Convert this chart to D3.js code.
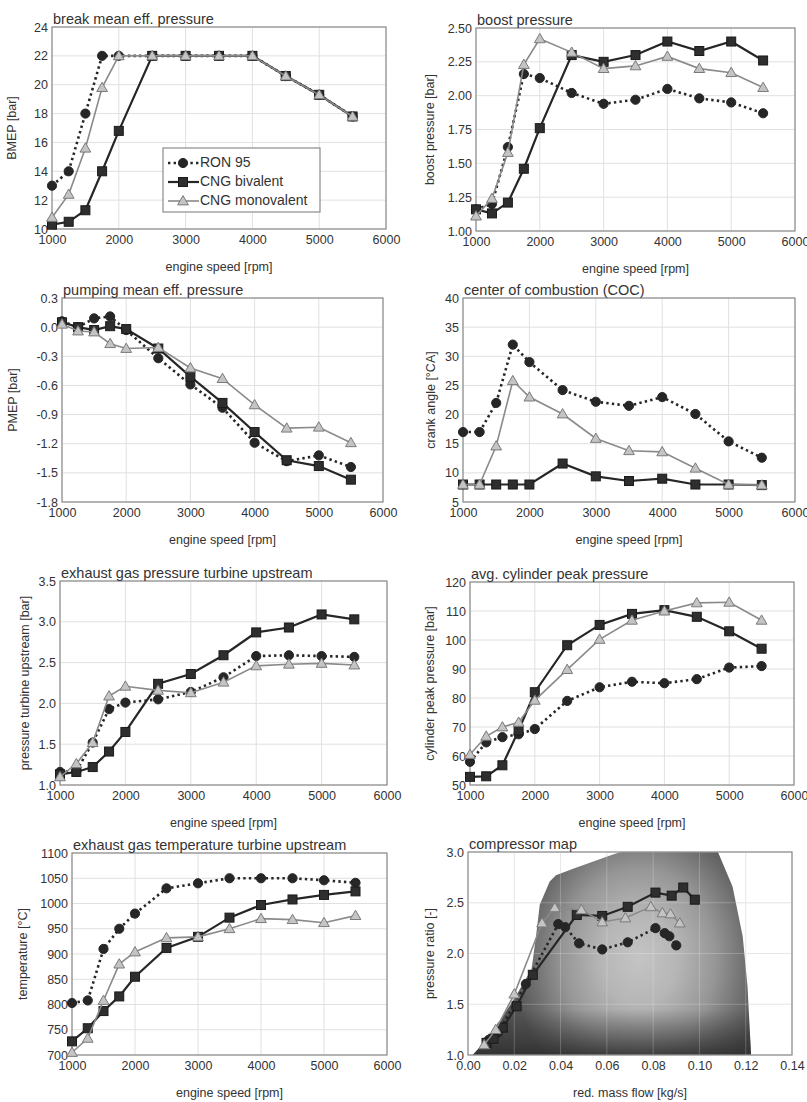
<!DOCTYPE html>
<html><head><meta charset="utf-8">
<script src="https://cdn.jsdelivr.net/npm/d3@7"></script>
<style>
body{margin:0;background:#fff}
svg{display:block}
text{font-family:"Liberation Sans",Arial,sans-serif;fill:#333}
</style>
</head><body>
<svg id="c" width="807" height="1102"></svg>
<script>
// ---------- data ----------
const speeds = [1000,1250,1500,1750,2000,2500,3000,3500,4000,4500,5000,5500];
const seriesNames = ["RON 95","CNG bivalent","CNG monovalent"];
const speedTicks = [1000,2000,3000,4000,5000,6000];
const speedTickLabels = ["1000","2000","3000","4000","5000","6000"];

const bmepRON  = [13.0,14.0,18.0,22.0,22.0,22.0,22.0,22.0,22.0,20.6,19.3,17.8];
const bmepBi   = [10.3,10.5,11.3,14.0,16.8,22.0,22.0,22.0,22.0,20.6,19.3,17.8];
const bmepMono = [10.8,12.4,15.6,19.8,22.0,22.0,22.0,22.0,22.0,20.6,19.3,17.8];
const bmepTicks = [10,12,14,16,18,20,22,24];
const bmepTickLabels = ["10","12","14","16","18","20","22","24"];

const boostRON  = [1.16,1.20,1.62,2.16,2.13,2.02,1.94,1.97,2.05,1.98,1.95,1.87];
const boostBi   = [1.16,1.13,1.21,1.46,1.76,2.30,2.25,2.30,2.40,2.33,2.40,2.26];
const boostMono = [1.11,1.24,1.58,2.23,2.42,2.32,2.20,2.22,2.29,2.20,2.17,2.06];
const boostTicks = [1.00,1.25,1.50,1.75,2.00,2.25,2.50];
const boostTickLabels = ["1.00","1.25","1.50","1.75","2.00","2.25","2.50"];

const pmepRON  = [0.06,0.00,0.09,0.11,-0.03,-0.32,-0.59,-0.83,-1.19,-1.38,-1.32,-1.44];
const pmepBi   = [0.05,0.00,-0.03,0.01,-0.02,-0.22,-0.51,-0.78,-1.08,-1.37,-1.43,-1.57];
const pmepMono = [0.03,-0.04,-0.05,-0.17,-0.22,-0.21,-0.42,-0.53,-0.80,-1.04,-1.03,-1.19];
const pmepTicks = [-1.8,-1.5,-1.2,-0.9,-0.6,-0.3,0.0,0.3];
const pmepTickLabels = ["-1.8","-1.5","-1.2","-0.9","-0.6","-0.3","0.0","0.3"];

const cocRON  = [17.0,17.0,22.0,32.0,29.0,24.2,22.2,21.5,23.0,20.1,15.4,12.6];
const cocBi   = [8.0,8.0,8.0,8.0,8.0,11.6,9.4,8.6,9.0,8.0,8.0,7.9];
const cocMono = [8.0,8.0,14.6,25.8,23.0,20.1,15.9,13.8,13.6,10.8,8.0,7.9];
const cocTicks = [5,10,15,20,25,30,35,40];
const cocTickLabels = ["5","10","15","20","25","30","35","40"];

const exhPRON  = [1.16,1.17,1.52,1.93,2.01,2.05,2.14,2.32,2.58,2.59,2.58,2.57];
const exhPBi   = [1.13,1.16,1.22,1.41,1.65,2.24,2.36,2.59,2.87,2.93,3.09,3.03];
const exhPMono = [1.10,1.26,1.52,2.09,2.21,2.16,2.13,2.26,2.46,2.48,2.49,2.47];
const exhPTicks = [1.0,1.5,2.0,2.5,3.0,3.5];
const exhPTickLabels = ["1.0","1.5","2.0","2.5","3.0","3.5"];

const peakRON  = [58.0,64.7,66.5,67.5,69.3,79.0,83.7,85.6,85.1,86.5,90.5,91.0];
const peakBi   = [52.8,53.0,56.8,68.8,82.0,98.2,105.2,109.0,110.3,108.0,103.0,97.0];
const peakMono = [60.5,66.8,70.0,71.6,79.2,89.8,100.2,106.8,110.0,112.8,113.0,106.8];
const peakTicks = [50,60,70,80,90,100,110,120];
const peakTickLabels = ["50","60","70","80","90","100","110","120"];

const tempRON  = [803,808,910,950,980,1030,1040,1050,1050,1050,1046,1041];
const tempBi   = [727,753,787,816,855,912,934,972,997,1008,1017,1024];
const tempMono = [705,733,808,880,904,932,934,950,970,968,962,976];
const tempTicks = [700,750,800,850,900,950,1000,1050,1100];
const tempTickLabels = ["700","750","800","850","900","950","1000","1050","1100"];

const flowRON  = [0.009,0.013,0.025,0.039,0.042,0.048,0.058,0.069,0.081,0.085,0.087,0.090];
const prRON    = [1.15,1.22,1.70,2.29,2.26,2.10,2.04,2.11,2.25,2.20,2.17,2.08];
const flowBi   = [0.008,0.011,0.015,0.021,0.028,0.047,0.058,0.069,0.081,0.088,0.093,0.098];
const prBi     = [1.12,1.16,1.27,1.48,1.79,2.38,2.37,2.46,2.60,2.57,2.65,2.53];
const flowMono = [0.007,0.012,0.020,0.032,0.0375,0.049,0.058,0.068,0.079,0.084,0.0875,0.0915];
const prMono   = [1.10,1.25,1.60,2.30,2.45,2.43,2.31,2.35,2.46,2.40,2.39,2.30];
const flowTicks = [0.00,0.02,0.04,0.06,0.08,0.10,0.12,0.14];
const flowTickLabels = ["0.00","0.02","0.04","0.06","0.08","0.10","0.12","0.14"];
const prTicks = [1.0,1.5,2.0,2.5,3.0];
const prTickLabels = ["1.0","1.5","2.0","2.5","3.0"];
// compressor map operating-range outline (flow, pressure ratio)
const mapFlow = [0.002,0.0073,0.0145,0.0217,0.0275,0.0296,0.031,0.0353,0.038,0.046,0.062,0.066,0.108,0.1143,0.1187,0.1208,0.1223];
const mapPR   = [1.00,1.13,1.36,1.62,1.85,2.21,2.48,2.71,2.77,2.84,2.97,3.00,3.00,2.66,2.17,1.67,1.00];

// ---------- layout ----------
const svg = d3.select("#c");
const panels = [
  {title:"break mean eff. pressure", l:52,r:386,t:27,b:229, yt:"BMEP [bar]", ytx:13,
   xd:[1000,6000], xT:speedTicks, xL:speedTickLabels, xt:"engine speed [rpm]",
   yd:[10,24], yT:bmepTicks, yL:bmepTickLabels, xs:[speeds,speeds,speeds], ys:[bmepRON,bmepBi,bmepMono], legend:true},
  {title:"boost pressure", l:476,r:795,t:28,b:231, yt:"boost pressure [bar]", ytx:431,
   xd:[1000,6000], xT:speedTicks, xL:speedTickLabels, xt:"engine speed [rpm]",
   yd:[1,2.5], yT:boostTicks, yL:boostTickLabels, xs:[speeds,speeds,speeds], ys:[boostRON,boostBi,boostMono]},
  {title:"pumping mean eff. pressure", l:62,r:383,t:298,b:502, yt:"PMEP [bar]", ytx:14,
   xd:[1000,6000], xT:speedTicks, xL:speedTickLabels, xt:"engine speed [rpm]",
   yd:[-1.8,0.3], yT:pmepTicks, yL:pmepTickLabels, xs:[speeds,speeds,speeds], ys:[pmepRON,pmepBi,pmepMono]},
  {title:"center of combustion (COC)", l:463,r:795,t:298,b:502, yt:"crank angle [°CA]", ytx:432,
   xd:[1000,6000], xT:speedTicks, xL:speedTickLabels, xt:"engine speed [rpm]",
   yd:[5,40], yT:cocTicks, yL:cocTickLabels, xs:[speeds,speeds,speeds], ys:[cocRON,cocBi,cocMono]},
  {title:"exhaust gas pressure turbine upstream", l:60,r:387,t:581,b:785, yt:"pressure turbine upstream [bar]", ytx:26,
   xd:[1000,6000], xT:speedTicks, xL:speedTickLabels, xt:"engine speed [rpm]",
   yd:[1,3.5], yT:exhPTicks, yL:exhPTickLabels, xs:[speeds,speeds,speeds], ys:[exhPRON,exhPBi,exhPMono]},
  {title:"avg. cylinder peak pressure", l:470,r:794,t:582,b:785, yt:"cylinder peak pressure [bar]", ytx:431,
   xd:[1000,6000], xT:speedTicks, xL:speedTickLabels, xt:"engine speed [rpm]",
   yd:[50,120], yT:peakTicks, yL:peakTickLabels, xs:[speeds,speeds,speeds], ys:[peakRON,peakBi,peakMono]},
  {title:"exhaust gas temperature turbine upstream", l:72,r:387,t:853,b:1055, yt:"temperature [°C]", ytx:24,
   xd:[1000,6000], xT:speedTicks, xL:speedTickLabels, xt:"engine speed [rpm]",
   yd:[700,1100], yT:tempTicks, yL:tempTickLabels, xs:[speeds,speeds,speeds], ys:[tempRON,tempBi,tempMono]},
  {title:"compressor map", l:468,r:792,t:852,b:1055, yt:"pressure ratio [-]", ytx:431,
   xd:[0,0.14], xT:flowTicks, xL:flowTickLabels, xt:"red. mass flow [kg/s]",
   yd:[1,3], yT:prTicks, yL:prTickLabels, xs:[flowRON,flowBi,flowMono], ys:[prRON,prBi,prMono], map:true}
];

const styles = [
  {stroke:"#262626", width:2.6, dash:"2.4,3.2", marker:"circle", fill:"#262626", mstroke:"#262626"},
  {stroke:"#262626", width:2.2, dash:null, marker:"square", fill:"#2e2e2e", mstroke:"#1a1a1a"},
  {stroke:"#8a8a8a", width:1.6, dash:null, marker:"triangle", fill:"#c4c4c4", mstroke:"#7a7a7a"}
];

const defs = svg.append("defs");

function drawMarker(g, kind, cx, cy, st){
  if(kind==="circle"){
    g.append("circle").attr("cx",cx).attr("cy",cy).attr("r",4.6).attr("fill",st.fill).attr("stroke",st.mstroke);
  } else if(kind==="square"){
    g.append("rect").attr("x",cx-4.5).attr("y",cy-4.5).attr("width",9).attr("height",9)
      .attr("fill",st.fill).attr("stroke",st.mstroke).attr("stroke-width",1);
  } else {
    g.append("path").attr("d",d3.symbol(d3.symbolTriangle).size(50)())
      .attr("transform",`translate(${cx},${cy+0.8})`).attr("fill",st.fill).attr("stroke",st.mstroke).attr("stroke-width",1);
  }
}

panels.forEach((p,pi)=>{
  const g = svg.append("g");
  const x = d3.scaleLinear().domain(p.xd).range([p.l,p.r]);
  const y = d3.scaleLinear().domain(p.yd).range([p.b,p.t]);

  g.append("rect").attr("x",p.l).attr("y",p.t).attr("width",p.r-p.l).attr("height",p.b-p.t).attr("fill","#fff");

  const grid = (col, op)=>{
    const gg = g.append("g");
    gg.selectAll("line.v").data(p.xT).join("line").attr("class","v")
      .attr("x1",d=>x(d)).attr("x2",d=>x(d)).attr("y1",p.t).attr("y2",p.b)
      .attr("stroke",col).attr("stroke-opacity",op).attr("stroke-width",1);
    gg.selectAll("line.h").data(p.yT).join("line").attr("class","h")
      .attr("y1",d=>y(d)).attr("y2",d=>y(d)).attr("x1",p.l).attr("x2",p.r)
      .attr("stroke",col).attr("stroke-opacity",op).attr("stroke-width",1);
  };
  grid("#e0e0e0",1);

  if(p.map){
    const cxp = x(0.074), cyp = y(1.95);
    const grad = defs.append("radialGradient").attr("id","mapgrad").attr("gradientUnits","userSpaceOnUse")
      .attr("cx",cxp).attr("cy",cyp).attr("r",150)
      .attr("gradientTransform",`translate(${cxp},${cyp}) scale(0.85,1.0) translate(${-cxp},${-cyp})`);
    [[0,"#c4c4c4"],[0.3,"#b6b6b6"],[0.6,"#969696"],[0.85,"#6c6c6c"],[1,"#555"]].forEach(s=>
      grad.append("stop").attr("offset",s[0]).attr("stop-color",s[1]));
    const bot = defs.append("linearGradient").attr("id","mapbot").attr("gradientUnits","userSpaceOnUse")
      .attr("x1",0).attr("x2",0).attr("y1",y(1.45)).attr("y2",y(1.0));
    [[0,"#2a2a2a",0],[0.6,"#2a2a2a",0.45],[1,"#2a2a2a",0.8]].forEach(s=>
      bot.append("stop").attr("offset",s[0]).attr("stop-color",s[1]).attr("stop-opacity",s[2]));
    const pts = mapFlow.map((f,i)=>[x(f),y(mapPR[i])]);
    const outline = d3.line()(pts)+"Z";
    g.append("path").attr("d",outline).attr("fill","url(#mapgrad)");
    g.append("path").attr("d",outline).attr("fill","url(#mapbot)");
    grid("#ffffff",0.22);
  }

  g.append("rect").attr("x",p.l).attr("y",p.t).attr("width",p.r-p.l).attr("height",p.b-p.t)
    .attr("fill","none").attr("stroke","#8c8c8c").attr("stroke-width",1.2);

  // axes
  const ax = g.append("g").attr("transform",`translate(0,${p.b})`)
    .call(d3.axisBottom(x).tickValues(p.xT).tickFormat((d,i)=>p.xL[i]).tickSize(0).tickPadding(6));
  const ay = g.append("g").attr("transform",`translate(${p.l},0)`)
    .call(d3.axisLeft(y).tickValues(p.yT).tickFormat((d,i)=>p.yL[i]).tickSize(0).tickPadding(4));
  [ax,ay].forEach(a=>{a.select(".domain").remove(); a.selectAll("text").attr("font-size",12.5)
      .attr("font-family","'Liberation Sans',Arial,sans-serif").attr("fill","#2e2e2e");});

  // title
  g.append("text").attr("x",p.l+1).attr("y",p.t-3).attr("font-size",14.5).text(p.title);
  // x title
  g.append("text").attr("x",(p.l+p.r)/2).attr("y",p.b+42).attr("text-anchor","middle").attr("font-size",12.5).text(p.xt);
  // y title
  const ym = (p.t+p.b)/2;
  g.append("text").attr("transform",`translate(${p.ytx},${ym}) rotate(-90)`).attr("text-anchor","middle")
    .attr("dominant-baseline","middle").attr("font-size",12.5).text(p.yt);

  // series
  [0,1,2].forEach(si=>{
    const st = styles[si];
    const xs = p.xs[si], ys = p.ys[si];
    const line = d3.line().x((d,i)=>x(xs[i])).y(d=>y(d));
    const path = g.append("path").datum(ys).attr("d",line).attr("fill","none")
      .attr("stroke",st.stroke).attr("stroke-width",st.width);
    if(st.dash) path.attr("stroke-dasharray",st.dash);
    const mg = g.append("g");
    ys.forEach((v,i)=>drawMarker(mg, st.marker, x(xs[i]), y(v), st));
  });

  if(p.legend){
    const lx = 163, ly = 148, lw = 157, lh = 64;
    const lg = g.append("g");
    lg.append("rect").attr("x",lx).attr("y",ly).attr("width",lw).attr("height",lh)
      .attr("fill","#fff").attr("stroke","#8c8c8c").attr("stroke-width",1.2);
    seriesNames.forEach((n,i)=>{
      const st = styles[i];
      const yy = ly+15+i*19;
      const ln = lg.append("line").attr("x1",lx+5).attr("x2",lx+36).attr("y1",yy).attr("y2",yy)
        .attr("stroke",st.stroke).attr("stroke-width",st.width);
      if(st.dash) ln.attr("stroke-dasharray",st.dash);
      drawMarker(lg, st.marker, lx+20, yy, st);
      lg.append("text").attr("x",lx+37).attr("y",yy).attr("dominant-baseline","middle")
        .attr("font-size",14).text(n);
    });
  }
});
</script>
</body></html>
